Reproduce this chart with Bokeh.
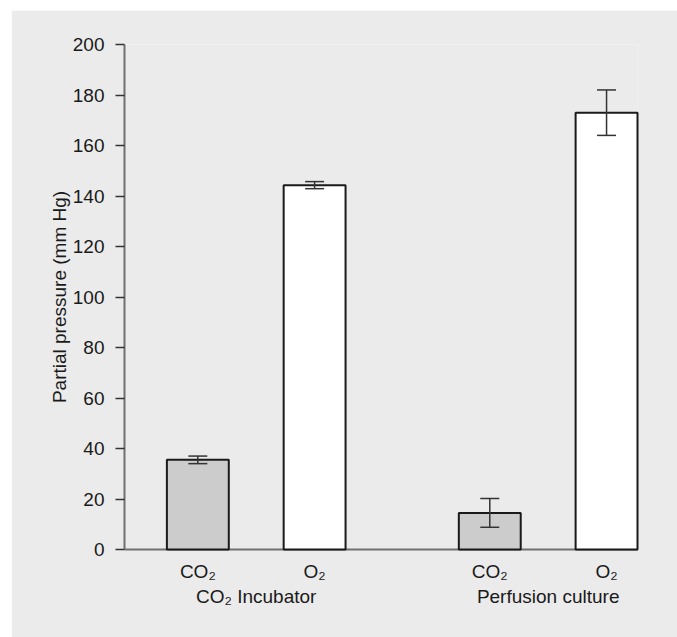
from bokeh.plotting import figure
from bokeh.models import Range1d, FixedTicker, LinearAxis
from bokeh.embed import file_html
from bokeh.resources import INLINE

# ---- data ----
groups = ["CO₂ Incubator", "Perfusion culture"]
gases = ["CO₂", "O₂"]
values = [35.5, 144.3, 14.5, 173.0]   # CO2 inc, O2 inc, CO2 perf, O2 perf
errors = [1.5, 1.4, 5.7, 9.0]
y_ticks = [0, 20, 40, 60, 80, 100, 120, 140, 160, 180, 200]

# ---- layout helpers ----
GROUP_STEP = 2.5
BAR_W = 0.53
gas_colors = {"CO₂": "#cccccc", "O₂": "#ffffff"}

xs, cols, labels = [], [], []
for g, _grp in enumerate(groups):
    for i, gas in enumerate(gases):
        xs.append(g * GROUP_STEP + i)
        cols.append(gas_colors[gas])
        labels.append(gas)
group_centers = [g * GROUP_STEP + (len(gases) - 1) / 2 for g in range(len(groups))]


def key(v):
    v = float(v)
    return int(v) if v.is_integer() else v


FONT = "Liberation Sans"
FS = "19px"
TXT = "#1a1a1a"
BG = "#ebebeb"

p = figure(width=666, height=627,
           x_range=Range1d(-0.628, xs[-1] + BAR_W / 2),
           y_range=Range1d(0, 200),
           output_backend="svg", toolbar_location=None,
           x_axis_location=None,
           min_border_left=113, min_border_top=34,
           min_border_right=40, min_border_bottom=88,
           background_fill_color=BG, border_fill_color=BG,
           outline_line_color=None)
p.margin = (10, 0, 0, 11)
p.grid.grid_line_color = None

# y axis
ya = p.yaxis[0]
ya.ticker = FixedTicker(ticks=y_ticks)
ya.major_tick_out = 9
ya.major_tick_in = 0
ya.minor_tick_out = 0
ya.minor_tick_in = 0
ya.major_tick_line_color = "#333333"
ya.major_tick_line_width = 1.5
ya.axis_line_color = "#707070"
ya.axis_line_width = 2
ya.major_label_standoff = 11
ya.major_label_text_font = FONT
ya.major_label_text_font_size = FS
ya.major_label_text_color = TXT
ya.axis_label = "Partial pressure (mm Hg)"
ya.axis_label_text_font = FONT
ya.axis_label_text_font_size = FS
ya.axis_label_text_font_style = "normal"
ya.axis_label_text_color = TXT
ya.axis_label_standoff = 0

# x axis with gas labels
ax1 = LinearAxis(ticker=FixedTicker(ticks=xs),
                 major_label_overrides={key(x): l for x, l in zip(xs, labels)})
ax1.major_tick_line_color = None
ax1.minor_tick_line_color = None
ax1.axis_line_color = "#707070"
ax1.axis_line_width = 2
ax1.major_label_standoff = 5
ax1.major_label_text_font = FONT
ax1.major_label_text_font_size = FS
ax1.major_label_text_color = TXT
p.add_layout(ax1, "below")

# x axis with group labels
ax2 = LinearAxis(ticker=FixedTicker(ticks=group_centers),
                 major_label_overrides={key(x): g for x, g in zip(group_centers, groups)})
ax2.major_tick_line_color = None
ax2.minor_tick_line_color = None
ax2.axis_line_color = None
ax2.major_label_standoff = -5
ax2.major_label_text_font = FONT
ax2.major_label_text_font_size = FS
ax2.major_label_text_color = TXT
p.add_layout(ax2, "below")

# bars
p.vbar(x=xs, top=values, bottom=0, width=BAR_W, fill_color=cols,
       line_color="#1a1a1a", line_width=2, level="overlay")

# error bars
lo = [v - e for v, e in zip(values, errors)]
hi = [v + e for v, e in zip(values, errors)]
p.segment(x0=xs, y0=lo, x1=xs, y1=hi, line_color="#333333", line_width=1.5, level="overlay")
p.dash(x=xs, y=lo, size=19, line_color="#333333", line_width=1.5, level="overlay")
p.dash(x=xs, y=hi, size=19, line_color="#333333", line_width=1.5, level="overlay")

open("out.html", "w").write(file_html(p, INLINE))
